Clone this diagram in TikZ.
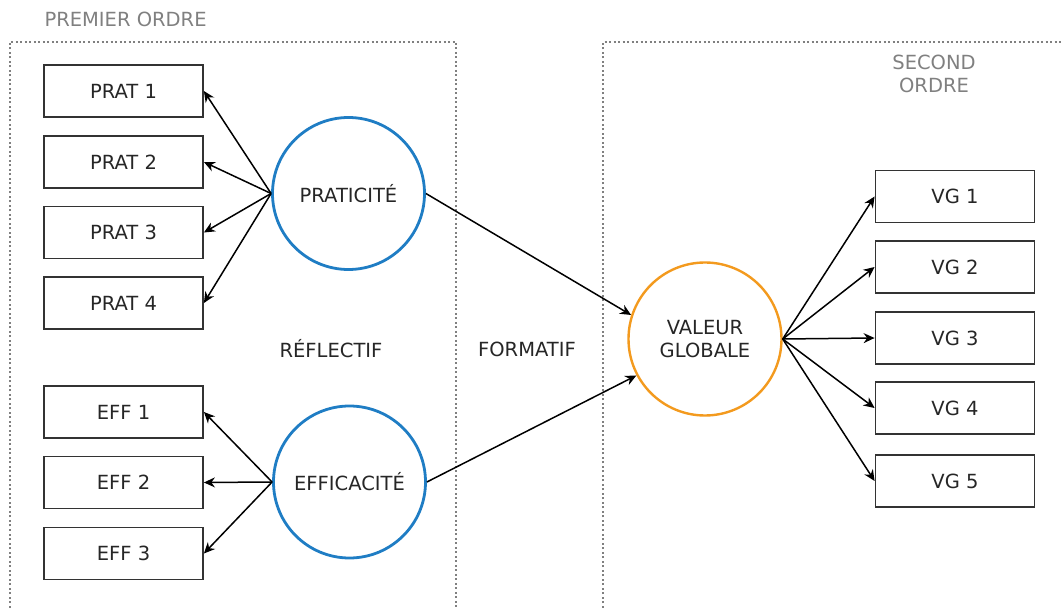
\documentclass[tikz,border=0pt]{standalone}
\usepackage{fontspec}
\setmainfont{DejaVu Sans}
\usetikzlibrary{arrows.meta}
\definecolor{cblue}{HTML}{1F7DC4}
\definecolor{corange}{HTML}{F39A1E}
\definecolor{cgray}{HTML}{808080}
\begin{document}
\begin{tikzpicture}[x=1pt,y=-1pt,
  every node/.style={font=\fontsize{19.5}{23}\selectfont, text=black!85},
  ind/.style={draw=black!80, line width=1.8pt, minimum width=159pt, minimum height=52pt, inner sep=0pt},
  latb/.style={draw=cblue, line width=2.8pt, circle, minimum size=152pt, inner sep=0pt},
  lato/.style={draw=corange, line width=2.4pt, circle, minimum size=153pt, inner sep=0pt, align=center},
  arr/.style={-{Stealth[length=11pt,width=10pt]}, line width=1.5pt, black},
  zone/.style={draw=cgray, line width=2.2pt, dash pattern=on 2pt off 2.5pt},
  lbl/.style={text=cgray, align=center}]
\useasboundingbox (0,0) rectangle (1061,609);
% zones
\draw[zone] (10,612) -- (10,42) -- (456,42) -- (456,612);
\draw[zone] (603,612) -- (603,42) -- (1064,42);
\node[lbl, anchor=west] (l1) at (41,19) {PREMIER ORDRE};
\node[lbl] (l2) at (934,74) {SECOND\\[0pt]ORDRE};
% indicators
\node[ind] (p1) at (123.5,91) {PRAT 1};
\node[ind] (p2) at (123.5,162) {PRAT 2};
\node[ind] (p3) at (123.5,232.5) {PRAT 3};
\node[ind] (p4) at (123.5,303) {PRAT 4};
\node[ind] (e1) at (123.5,412) {EFF 1};
\node[ind] (e2) at (123.5,482.5) {EFF 2};
\node[ind] (e3) at (123.5,553.5) {EFF 3};
\node[ind] (v1) at (955,196.5) {VG 1};
\node[ind] (v2) at (955,267) {VG 2};
\node[ind] (v3) at (955,338) {VG 3};
\node[ind] (v4) at (955,408) {VG 4};
\node[ind] (v5) at (955,481) {VG 5};
% latent
\node[latb] (prat) at (348.5,193.5) {PRATICITÉ};
\node[latb] (eff) at (349.5,482) {EFFICACITÉ};
\node[lato] (val) at (705,339) {VALEUR\\[0pt]GLOBALE};
% labels
\node (refl) at (331,349) {RÉFLECTIF};
\node (form) at (527,349) {FORMATIF};
% arrows
\foreach \t in {p1,p2,p3,p4}
  \draw[arr] (prat.west) -- (\t.east);
\foreach \t in {e1,e2,e3}
  \draw[arr] (eff.west) -- (\t.east);
\draw[arr] (prat.east) -- (val.162);
\draw[arr] (eff.east) -- (val.208);
\foreach \t in {v1,v2,v3,v4,v5}
  \draw[arr] (val.east) -- (\t.west);
\end{tikzpicture}
\end{document}
